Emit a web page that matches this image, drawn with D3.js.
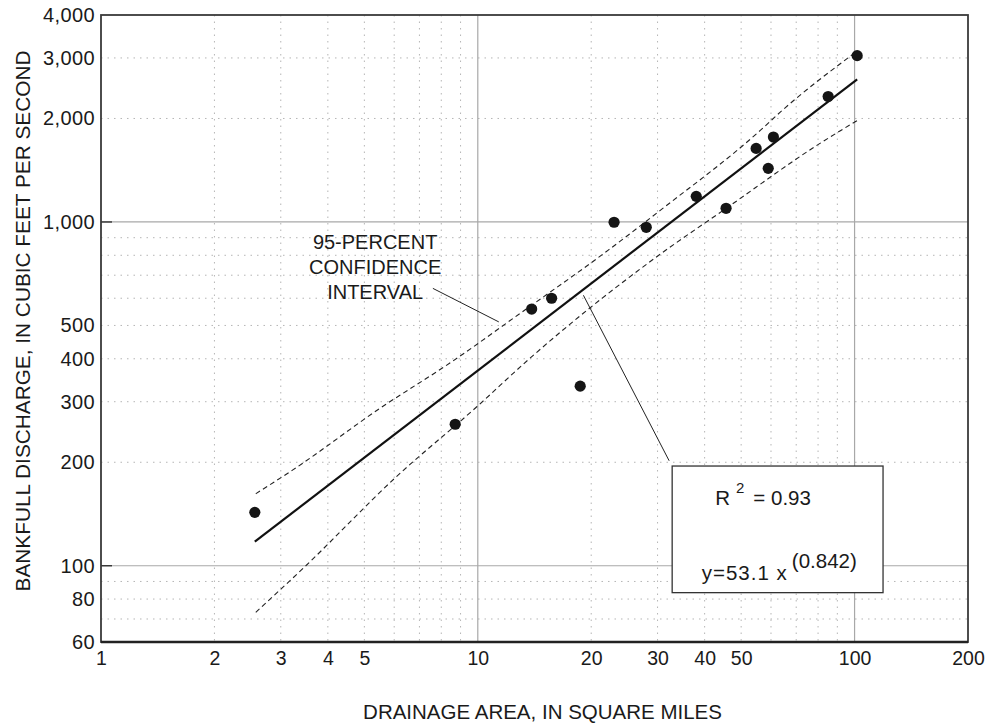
<!DOCTYPE html>
<html>
<head>
<meta charset="utf-8">
<script src="https://cdn.jsdelivr.net/npm/d3@7"></script>
<style>
  body { margin: 0; background: #fff; }
  svg { display: block; }
  text { font-family: "Liberation Sans", Arial, Helvetica, sans-serif; fill: #1a1a1a; }
</style>
</head>
<body>
<div id="chart"></div>
<script>
"use strict";

// Observed sites: drainage area (sq mi) and bankfull discharge (cfs)
var areaSqMi     = [2.56, 8.71, 13.9, 15.7, 18.7, 23.0, 28.0, 38.0, 45.6, 54.8, 59.0, 60.9, 85.1, 101.6];
var dischargeCfs = [143, 258, 558, 600, 333, 998, 965, 1187, 1096, 1637, 1432, 1766, 2317, 3047];

// Regression line y = 53.1 x^0.842, end points as drawn
var fitArea = [2.56, 101.6];
var fitQ    = [117.5, 2600];

// 95-percent confidence interval
var upperArea = [2.575, 3.23, 5.5, 8.53, 12.95, 22.2, 30.5, 56.2, 63.5, 99.3];
var upperQ    = [162, 190, 287, 392, 542, 828, 1081, 1846, 2087, 3084];
var lowerArea = [2.575, 3.48, 6.03, 9.94, 13.6, 30.5, 45.6, 79.4, 102.4];
var lowerQ    = [73.2, 99.5, 180, 290, 397, 806, 1095, 1670, 1983];

// Axis ticks and grid
var xTicks = [1, 2, 3, 4, 5, 10, 20, 30, 40, 50, 100, 200];
var yTicks = [60, 80, 100, 200, 300, 400, 500, 1000, 2000, 3000, 4000];
var xMajor = [10, 100];
var xMinor = [2, 3, 4, 5, 6, 7, 8, 9, 20, 30, 40, 50, 60, 70, 80, 90];
var yMajor = [100, 1000];
var yMinor = [70, 80, 90, 200, 300, 400, 500, 600, 700, 800, 900, 2000, 3000];

var ciLabel = ["95-PERCENT", "CONFIDENCE", "INTERVAL"];

(function() {
  var W = 989, H = 727;
  var margin = {top: 15, right: 21, bottom: 85, left: 101},
      width = W - margin.left - margin.right,
      height = H - margin.top - margin.bottom;

  var x = d3.scaleLog().domain([1, 200]).range([0, width]),
      y = d3.scaleLog().domain([60, 4000]).range([height, 0]);

  var svg = d3.select("#chart").append("svg")
      .attr("width", W)
      .attr("height", H);

  var g = svg.append("g")
      .attr("transform", "translate(" + margin.left + "," + margin.top + ")");

  // Grid
  g.selectAll(".xminor").data(xMinor).enter().append("line")
    .attr("x1", function(d) { return x(d); }).attr("x2", function(d) { return x(d); })
    .attr("y1", 0).attr("y2", height)
    .attr("stroke", "#b5b5b5").attr("stroke-width", 1).attr("stroke-dasharray", "1.5,5");
  g.selectAll(".yminor").data(yMinor).enter().append("line")
    .attr("y1", function(d) { return y(d); }).attr("y2", function(d) { return y(d); })
    .attr("x1", 0).attr("x2", width)
    .attr("stroke", "#b5b5b5").attr("stroke-width", 1).attr("stroke-dasharray", "1.5,5");
  g.selectAll(".xmajor").data(xMajor).enter().append("line")
    .attr("x1", function(d) { return x(d); }).attr("x2", function(d) { return x(d); })
    .attr("y1", 0).attr("y2", height)
    .attr("stroke", "#a8a8a8").attr("stroke-width", 1.2);
  g.selectAll(".ymajor").data(yMajor).enter().append("line")
    .attr("y1", function(d) { return y(d); }).attr("y2", function(d) { return y(d); })
    .attr("x1", 0).attr("x2", width)
    .attr("stroke", "#a8a8a8").attr("stroke-width", 1.2);

  // short dark ticks on the left at the decades
  g.selectAll(".ytick").data(yMajor).enter().append("line")
    .attr("y1", function(d) { return y(d); }).attr("y2", function(d) { return y(d); })
    .attr("x1", 0).attr("x2", 11)
    .attr("stroke", "#333").attr("stroke-width", 1.4);

  // Frame
  g.append("rect")
    .attr("width", width).attr("height", height)
    .attr("fill", "none").attr("stroke", "#3a3a3a").attr("stroke-width", 1.8);
  g.append("line")
    .attr("x1", 0).attr("x2", width).attr("y1", height).attr("y2", height)
    .attr("stroke", "#222").attr("stroke-width", 2.6);

  // Axes labels
  var xAxis = d3.axisBottom(x).tickValues(xTicks).tickSize(0).tickPadding(9.5)
      .tickFormat(d3.format("d"));
  var yAxis = d3.axisLeft(y).tickValues(yTicks).tickSize(0).tickPadding(6)
      .tickFormat(d3.format(","));

  var gx = g.append("g").attr("transform", "translate(0," + height + ")").call(xAxis);
  var gy = g.append("g").call(yAxis);
  gx.select(".domain").remove();
  gy.select(".domain").remove();
  gx.selectAll("text").style("font-size", "19.5px").attr("fill", "#1a1a1a")
    .style("font-family", "'Liberation Sans', Arial, sans-serif");
  gy.selectAll("text").style("font-size", "20px").style("letter-spacing", "0.4px").attr("fill", "#1a1a1a")
    .style("font-family", "'Liberation Sans', Arial, sans-serif");

  // Confidence curves
  var band = d3.line()
    .x(function(d) { return x(d[0]); })
    .y(function(d) { return y(d[1]); })
    .curve(d3.curveMonotoneX);

  g.append("path")
    .datum(d3.zip(upperArea, upperQ))
    .attr("d", band)
    .attr("fill", "none").attr("stroke", "#222").attr("stroke-width", 1.1)
    .attr("stroke-dasharray", "5,3.5");
  g.append("path")
    .datum(d3.zip(lowerArea, lowerQ))
    .attr("d", band)
    .attr("fill", "none").attr("stroke", "#222").attr("stroke-width", 1.1)
    .attr("stroke-dasharray", "5,3.5");

  // Regression line
  g.append("path")
    .datum(d3.zip(fitArea, fitQ))
    .attr("d", d3.line().x(function(d) { return x(d[0]); }).y(function(d) { return y(d[1]); }))
    .attr("fill", "none").attr("stroke", "#111").attr("stroke-width", 2.2);

  // Points
  g.selectAll(".pt").data(d3.zip(areaSqMi, dischargeCfs)).enter().append("circle")
    .attr("cx", function(d) { return x(d[0]); })
    .attr("cy", function(d) { return y(d[1]); })
    .attr("r", 5.6)
    .attr("fill", "#151515");

  // Annotation: confidence interval label + leader
  var lbl = g.append("text")
    .attr("x", x(5.34)).attr("y", y(837))
    .attr("text-anchor", "middle")
    .style("font-size", "20px");
  lbl.selectAll("tspan").data(ciLabel).enter().append("tspan")
    .attr("x", x(5.34))
    .attr("dy", function(d, i) { return i === 0 ? 0 : "1.27em"; })
    .text(function(d) { return d; });

  g.append("line")
    .attr("x1", x(7.60)).attr("y1", y(641))
    .attr("x2", x(11.37)).attr("y2", y(512))
    .attr("stroke", "#222").attr("stroke-width", 1);
  g.append("line")
    .attr("x1", x(19.07)).attr("y1", y(612))
    .attr("x2", x(32.2)).attr("y2", y(202))
    .attr("stroke", "#222").attr("stroke-width", 1);

  // Equation box
  var bx0 = x(32.8), bx1 = x(119), by0 = y(195), by1 = y(83.5);
  g.append("rect")
    .attr("x", bx0).attr("y", by0)
    .attr("width", bx1 - bx0).attr("height", by1 - by0)
    .attr("fill", "#fff").attr("stroke", "#333").attr("stroke-width", 1.3);

  var r2 = g.append("text").attr("x", x(42.66)).attr("y", y(150.4)).style("font-size", "20.5px");
  r2.append("tspan").text("R");
  r2.append("tspan").attr("dx", 6).attr("dy", -12).style("font-size", "15px").text("2");
  r2.append("tspan").attr("dx", 9).attr("dy", 12).text("= 0.93");

  var eq = g.append("text").attr("x", x(39.3)).attr("y", y(91.1)).style("font-size", "20.5px");
  eq.append("tspan").style("letter-spacing", "1px").text("y=53.1 x");
  eq.append("tspan").attr("dx", 4).attr("dy", -12).text("(0.842)");

  // Axis titles
  svg.append("text")
    .attr("x", margin.left + width / 2 + 8).attr("y", 719)
    .attr("text-anchor", "middle")
    .style("font-size", "20.5px")
    .text("DRAINAGE AREA, IN SQUARE MILES");

  svg.append("text")
    .attr("transform", "translate(30," + 321 + ") rotate(-90)")
    .attr("text-anchor", "middle")
    .style("font-size", "20.8px")
    .text("BANKFULL DISCHARGE, IN CUBIC FEET PER SECOND");
})();
</script>
</body>
</html>
